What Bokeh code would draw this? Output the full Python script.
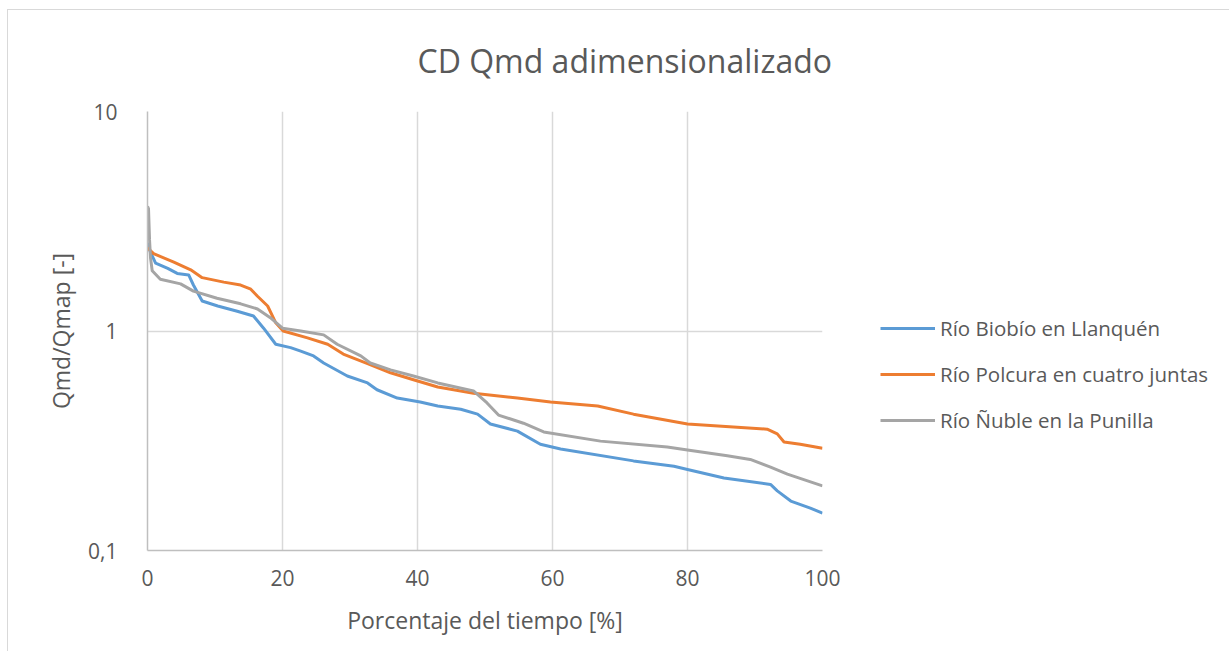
from bokeh.plotting import figure
from bokeh.models import Legend, LegendItem, FixedTicker, Title
from bokeh.embed import file_html
from bokeh.resources import INLINE

# ---- data ----
series_names = ["Río Biobío en Llanquén", "Río Polcura en cuatro juntas", "Río Ñuble en la Punilla"]

biobio_x = [0, 0.4, 1.2, 3.0, 4.4, 6.1, 6.8, 8.1, 10.4, 13.3, 15.7, 17.2, 19.0, 21.2, 22.7, 24.6, 26.1,
            29.6, 32.6, 34.0, 37.0, 40.4, 43.0, 46.4, 48.9, 50.8, 54.8, 58.2, 61.2, 72.0, 78.0, 80.0,
            85.4, 92.3, 93.3, 95.3, 98.2, 100]
biobio_y = [2.52, 2.3, 2.04, 1.93, 1.83, 1.80, 1.62, 1.37, 1.30, 1.23, 1.17, 1.03, 0.87, 0.84, 0.81, 0.77, 0.715,
            0.624, 0.58, 0.54, 0.495, 0.475, 0.455, 0.44, 0.418, 0.377, 0.35, 0.305, 0.29, 0.256, 0.242, 0.234,
            0.214, 0.2, 0.187, 0.168, 0.156, 0.148]

polcura_x = [0, 0.9, 3.9, 6.4, 8.1, 11.3, 13.8, 15.3, 16.3, 17.8, 19.0, 20.1, 23.7, 26.7, 29.0, 32.6,
             36.0, 39.4, 43.0, 48.3, 54.8, 59.7, 66.7, 72.0, 80.0, 86.8, 91.8, 93.3, 94.3, 96.7, 100]
polcura_y = [2.39, 2.25, 2.06, 1.90, 1.75, 1.67, 1.62, 1.55, 1.44, 1.30, 1.09, 1.0, 0.93, 0.87, 0.785, 0.71,
             0.645, 0.60, 0.556, 0.52, 0.495, 0.475, 0.455, 0.418, 0.377, 0.365, 0.357, 0.34, 0.312, 0.305, 0.292]

nuble_x = [0, 0.15, 0.3, 0.45, 0.7, 1.9, 4.9, 6.8, 10.3, 13.8, 16.3, 18.2, 20.0, 22.7, 26.1, 28.1,
           31.6, 33.0, 36.0, 39.4, 43.0, 48.3, 50.3, 52.0, 55.7, 58.7, 67.1, 77.0, 80.0, 85.9, 89.3,
           92.3, 94.8, 100]
nuble_y = [3.7, 3.6, 2.6, 2.15, 1.88, 1.72, 1.64, 1.52, 1.41, 1.33, 1.26, 1.15, 1.03, 1.0, 0.96, 0.87,
           0.77, 0.715, 0.665, 0.624, 0.58, 0.533, 0.47, 0.414, 0.38, 0.347, 0.315, 0.296, 0.287, 0.27, 0.26,
           0.24, 0.223, 0.197]

x_ticks = [0, 20, 40, 60, 80, 100]
y_ticks = [0.1, 1, 10]
y_tick_labels = {0.1: "0,1", 1: "1", 10: "10"}

title_text = "CD Qmd adimensionalizado"
x_label = "Porcentaje del tiempo [%]"
y_label = "Qmd/Qmap [-]"

colors = ["#5b9bd5", "#ed7d31", "#a5a5a5"]
FONT = "Open Sans"
TXT = "#595959"

p = figure(frame_width=675, frame_height=439, x_range=(0, 100), y_range=(0.1, 10), y_axis_type="log",
           output_backend="svg", toolbar_location=None,
           min_border_left=139, min_border_right=38, min_border_top=100, min_border_bottom=101)
p.styles = {"border-top": "1px solid #d9d9d9", "border-left": "1px solid #d9d9d9",
            "margin-left": "7px", "margin-top": "9px"}
p.outline_line_color = None
p.background_fill_color = "white"
p.border_fill_color = "white"

# axes
p.xaxis.ticker = FixedTicker(ticks=x_ticks)
p.yaxis.ticker = FixedTicker(ticks=y_ticks, minor_ticks=[])
p.yaxis.major_label_overrides = y_tick_labels
for ax in (p.xaxis[0], p.yaxis[0]):
    ax.axis_line_color = "#bfbfbf"
    ax.axis_line_width = 1.5
    ax.major_tick_line_color = None
    ax.minor_tick_line_color = None
    ax.major_label_text_font = FONT
    ax.major_label_text_color = TXT
    ax.major_label_text_font_size = "21px"
    ax.axis_label_text_font = FONT
    ax.axis_label_text_color = TXT
    ax.axis_label_text_font_size = "23px"
    ax.axis_label_text_font_style = "normal"
p.xaxis.axis_label = x_label
p.yaxis.axis_label = y_label
p.xaxis.major_label_standoff = 13
p.xaxis.axis_label_standoff = 15
p.yaxis.major_label_standoff = 24
p.yaxis.axis_label_standoff = 8

p.xgrid.grid_line_color = "#d9d9d9"
p.ygrid.grid_line_color = "#d9d9d9"
p.xgrid.grid_line_width = 1.5
p.ygrid.grid_line_width = 1.5
p.ygrid.minor_grid_line_color = None

r1 = p.line(biobio_x, biobio_y, line_color=colors[0], line_width=3, line_join="round")
r2 = p.line(polcura_x, polcura_y, line_color=colors[1], line_width=3, line_join="round")
r3 = p.line(nuble_x, nuble_y, line_color=colors[2], line_width=3, line_join="round")

legend = Legend(items=[LegendItem(label=series_names[0], renderers=[r1]),
                       LegendItem(label=series_names[1], renderers=[r2]),
                       LegendItem(label=series_names[2], renderers=[r3])],
                location=(58, 116), orientation="vertical",
                glyph_width=55, glyph_height=20, label_height=20, spacing=18,
                label_standoff=5, padding=0, margin=0,
                label_text_font=FONT, label_text_font_size="20.5px", label_text_color=TXT,
                border_line_alpha=0, background_fill_alpha=0)
p.add_layout(legend, "right")

title = Title(text=title_text, align="left", offset=270, vertical_align="top", standoff=56,
              text_font=FONT, text_font_size="32px", text_color=TXT, text_font_style="normal")
p.add_layout(title, "above")

open("out.html", "w").write(file_html(p, INLINE))
